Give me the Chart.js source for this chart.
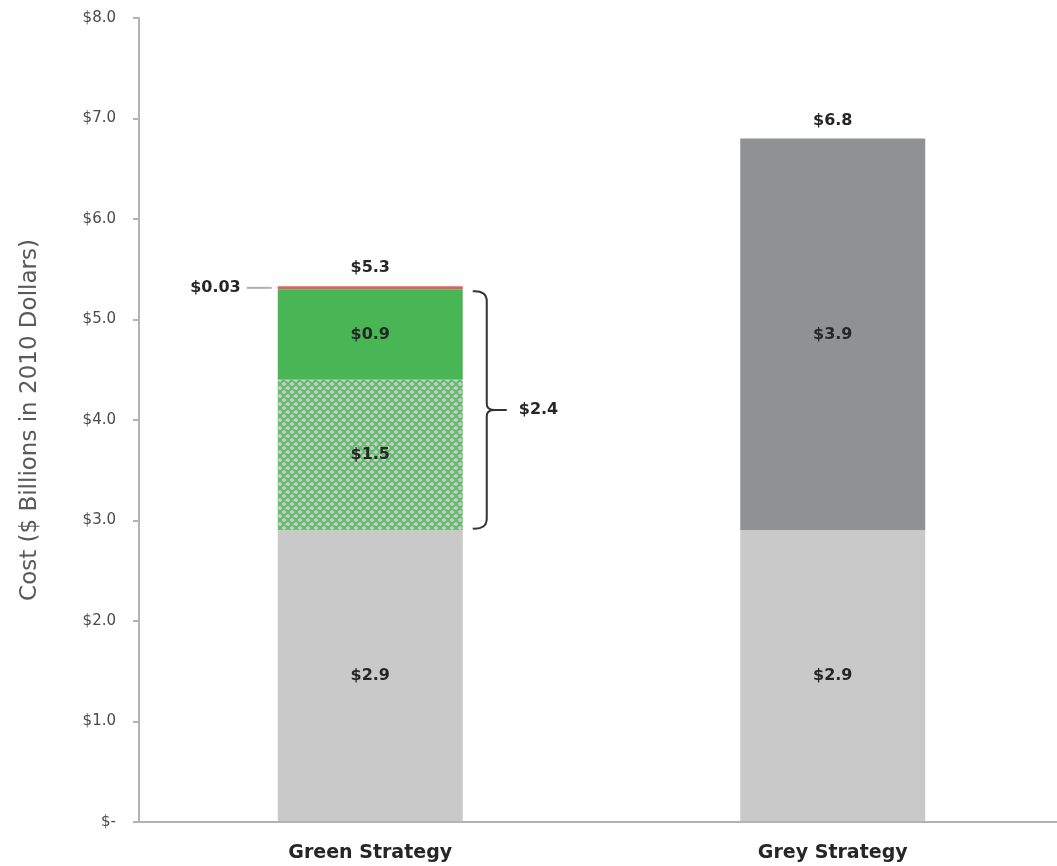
<!DOCTYPE html>
<html>
<head>
<meta charset="utf-8">
<script src="https://cdn.jsdelivr.net/npm/chart.js@4.4.0/dist/chart.umd.min.js"></script>
<style>
  html, body { margin: 0; padding: 0; background: #fff; overflow: hidden; }
  canvas { display: block; }
</style>
</head>
<body>
<canvas id="myChart" width="1064" height="866"></canvas>
<script>
// Dados do gráfico
const categories = ['Green Strategy', 'Grey Strategy'];
const baseCost = [2.9, 2.9];
const greenHatched = [1.5, 0];
const greenSolid = [0.9, 0];
const greenRed = [0.03, 0];
const greyExtra = [0, 3.9];
const yTicks = [0, 1, 2, 3, 4, 5, 6, 7, 8];

const FONT = '"DejaVu Sans", sans-serif';

// padrão xadrez verde sobre cinza
function makeHatch() {
    const c = document.createElement('canvas');
    c.width = 8; c.height = 8;
    const g = c.getContext('2d');
    g.fillStyle = '#c9cac9';
    g.fillRect(0, 0, 8, 8);
    g.strokeStyle = '#5cbf68';
    g.lineWidth = 2;
    g.beginPath();
    g.moveTo(-2, -2); g.lineTo(10, 10);
    g.moveTo(10, -2); g.lineTo(-2, 10);
    g.moveTo(-6, 2); g.lineTo(6, 14);
    g.moveTo(2, -6); g.lineTo(14, 6);
    g.moveTo(6, -6); g.lineTo(-6, 6);
    g.moveTo(14, 2); g.lineTo(2, 14);
    g.stroke();
    return g.createPattern(c, 'repeat');
}

const ctx = document.getElementById('myChart').getContext('2d');

const data = {
    labels: categories,
    datasets: [
        { label: 'base', data: baseCost, backgroundColor: '#c8c9c8' },
        { label: 'hatched', data: greenHatched, backgroundColor: makeHatch() },
        { label: 'green', data: greenSolid, backgroundColor: '#48b654' },
        { label: 'red', data: greenRed, backgroundColor: '#e0605b' },
        { label: 'grey', data: greyExtra, backgroundColor: '#8f9192' }
    ]
};

// rótulos e anotações
const labelPlugin = {
    id: 'labels',
    afterDatasetsDraw(chart) {
        const c = chart.ctx;
        const y = chart.scales.y;
        c.save();
        c.font = 'bold 16px ' + FONT;
        c.fillStyle = '#262626';
        c.textAlign = 'center';
        c.textBaseline = 'middle';
        chart.data.datasets.forEach((ds, i) => {
            const meta = chart.getDatasetMeta(i);
            meta.data.forEach((el, j) => {
                const v = ds.data[j];
                if (v < 0.1) return;
                c.fillText('$' + v.toFixed(1), el.x, (el.y + el.base) / 2);
            });
        });
        // totais
        categories.forEach((cat, j) => {
            let total = 0;
            chart.data.datasets.forEach(ds => { total += ds.data[j]; });
            const x = chart.getDatasetMeta(0).data[j].x;
            c.fillText('$' + total.toFixed(1), x, y.getPixelForValue(total) - 18);
        });

        // $0.03
        const red = chart.getDatasetMeta(3).data[0];
        const redY = y.getPixelForValue(baseCost[0] + greenHatched[0] + greenSolid[0] + greenRed[0] / 2);
        const left = red.x - red.width / 2;
        c.textAlign = 'right';
        c.fillText('$' + greenRed[0].toFixed(2), left - 37, redY);
        c.strokeStyle = '#b0b0b0';
        c.lineWidth = 2;
        c.beginPath();
        c.moveTo(left - 31, redY);
        c.lineTo(left - 6, redY);
        c.stroke();

        // chave $2.4
        const right = red.x + red.width / 2;
        const top = y.getPixelForValue(baseCost[0] + greenHatched[0] + greenSolid[0]) + 2;
        const bot = y.getPixelForValue(baseCost[0]) - 2;
        const mid = (top + bot) / 2;
        const bx = right + 24;
        c.strokeStyle = '#333';
        c.lineWidth = 2;
        c.beginPath();
        c.moveTo(right + 10, top);
        c.quadraticCurveTo(bx, top - 1, bx, top + 10);
        c.lineTo(bx, mid - 6);
        c.quadraticCurveTo(bx, mid, bx + 8, mid);
        c.quadraticCurveTo(bx, mid, bx, mid + 6);
        c.lineTo(bx, bot - 10);
        c.quadraticCurveTo(bx, bot + 1, right + 10, bot);
        c.moveTo(bx + 8, mid);
        c.lineTo(bx + 20, mid);
        c.stroke();
        c.textAlign = 'left';
        c.fillText('$' + (greenHatched[0] + greenSolid[0]).toFixed(1), bx + 32, mid);
        c.restore();
    }
};

const options = {
    responsive: false,
    animation: false,
    layout: { padding: { top: 18, left: 0, right: 0, bottom: 0 } },
    plugins: {
        legend: { display: false },
        tooltip: { enabled: false }
    },
    datasets: {
        bar: { barPercentage: 0.4, categoryPercentage: 1, borderWidth: 0 }
    },
    scales: {
        x: {
            stacked: true,
            grid: { display: false },
            border: { display: true, color: '#b3b3b3', width: 2 },
            ticks: {
                color: '#262626',
                font: { family: FONT, size: 19, weight: 'bold' },
                padding: 12
            },
            afterFit(scale) { scale.height = 44; }
        },
        y: {
            stacked: true,
            min: 0,
            max: 8,
            afterBuildTicks(scale) { scale.ticks = yTicks.map(v => ({ value: v })); },
            grid: { drawOnChartArea: false, drawTicks: true, tickLength: 6, color: '#b3b3b3', lineWidth: 2 },
            border: { display: true, color: '#b3b3b3', width: 2 },
            ticks: {
                color: '#4a4a4a',
                font: { family: FONT, size: 15 },
                padding: 17,
                callback: v => v === 0 ? '$-' : '$' + v.toFixed(1)
            },
            title: {
                display: true,
                text: 'Cost ($ Billions in 2010 Dollars)',
                color: '#595959',
                font: { family: FONT, size: 23 },
                padding: { top: 16, bottom: 0 }
            },
            afterFit(scale) {
                scale.width = 139;
                scale.paddingTop = 0;
                scale.paddingBottom = 0;
            }
        }
    }
};

const myChart = new Chart(ctx, {
    type: 'bar',
    data: data,
    options: options,
    plugins: [labelPlugin]
});
</script>
</body>
</html>
